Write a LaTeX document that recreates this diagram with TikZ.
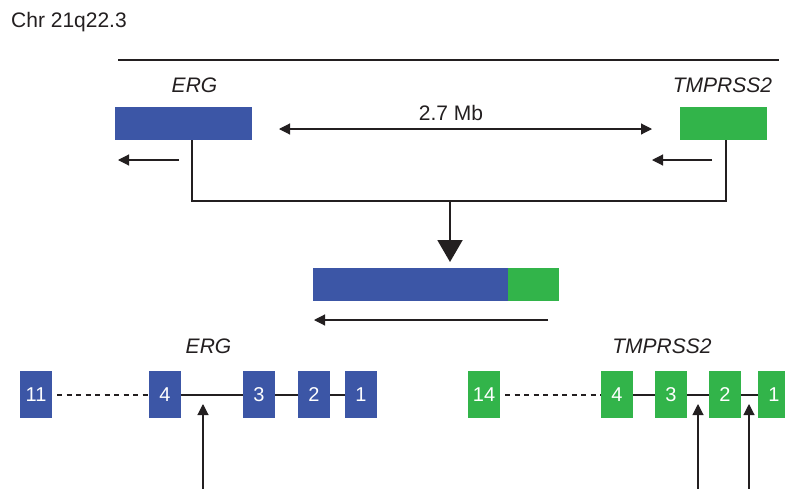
\documentclass[tikz,border=0pt]{standalone}
\usepackage{fontspec}
\setmainfont{Liberation Sans}
\usetikzlibrary{arrows.meta}
\definecolor{ergblue}{RGB}{60,86,166}
\definecolor{tmgreen}{RGB}{50,180,74}
\definecolor{ink}{RGB}{35,31,32}
\begin{document}
\begin{tikzpicture}[x=1pt,y=-1pt,
  lbl/.style={font=\fontsize{21}{25}\selectfont, text=ink, inner sep=0},
  glbl/.style={lbl, font=\fontsize{21}{25}\selectfont\itshape},
  gbox/.style={rectangle, inner sep=0, minimum height=33pt},
  exonbox/.style={rectangle, inner sep=0, minimum width=32pt, minimum height=47pt, text=white, font=\fontsize{20}{24}\selectfont},
  ergex/.style={exonbox, fill=ergblue},
  tmex/.style={exonbox, fill=tmgreen},
  conn/.style={draw=ink, line width=2pt},
  thinarrow/.style={draw=ink, line width=1.1pt, -{Triangle[length=11pt,width=11pt]}},
  dblarrow/.style={draw=ink, line width=1.1pt, {Triangle[length=11pt,width=11pt]}-{Triangle[length=11pt,width=11pt]}},
  dashconn/.style={draw=ink, line width=2pt, dash pattern=on 5pt off 4.5pt}
]
\clip (0,0) rectangle (785,488);
\fill[white] (0,0) rectangle (785,488);

% title
\node[lbl, anchor=base west] (chr) at (11,27.5) {Chr 21q22.3};

% chromosome line
\coordinate (cl) at (118,60);
\coordinate (cr) at (779,60);
\draw[conn] (cl) -- (cr);

% genes on chromosome
\node[glbl, anchor=base] (erglbl) at (194.5,92) {ERG};
\node[glbl, anchor=base] (tmlbl) at (722.5,92) {TMPRSS2};
\node[gbox, fill=ergblue, minimum width=137pt] (ergbox) at (183.5,123.5) {};
\node[gbox, fill=tmgreen, minimum width=87pt] (tmbox) at (723.5,123.5) {};

% distance
\coordinate (dl) at (279,129);
\coordinate (dr) at (652,129);
\draw[dblarrow] (dl) -- (dr);
\node[lbl, anchor=base] (dist) at (451,120.7) {2.7 Mb};

% orientation arrows
\coordinate (ea1) at (179,160);
\coordinate (ea2) at (118,160);
\draw[thinarrow] (ea1) -- (ea2);
\coordinate (ta1) at (712,160);
\coordinate (ta2) at (652,160);
\draw[thinarrow] (ta1) -- (ta2);

% joining lines
\coordinate (join) at (450,201);
\draw[conn] ([xshift=8.5pt]ergbox.south) |- (join);
\draw[conn] ([xshift=2.5pt]tmbox.south) |- (join);

% fusion
\node[gbox, fill=ergblue, minimum width=195pt] (fuse) at (410.5,284.5) {};
\node[gbox, fill=tmgreen, minimum width=51pt] (fuset) at (533.5,284.5) {};
\coordinate (tip) at (450,262);
\draw[conn, -{Triangle[length=22pt,width=25pt]}] (join) -- (tip);
\coordinate (fa1) at (548,320);
\coordinate (fa2) at (314,320);
\draw[thinarrow] (fa1) -- (fa2);

% ERG exon structure
\node[glbl, anchor=base] (erglbl2) at (208.5,353) {ERG};
\node[ergex] (e11) at (36,394.5) {11};
\node[ergex] (e4) at (165,394.5) {4};
\node[ergex] (e3) at (259,394.5) {3};
\node[ergex] (e2) at (314,394.5) {2};
\node[ergex] (e1) at (361,394.5) {1};
\draw[dashconn] ([xshift=5pt]e11.east) -- (e4.west);
\draw[conn] (e4) -- (e3);
\draw[conn] (e3) -- (e2);
\draw[conn] (e2) -- (e1);

% TMPRSS2 exon structure
\node[glbl, anchor=base] (tmlbl2) at (662,353) {TMPRSS2};
\node[tmex] (t14) at (484,394.5) {14};
\node[tmex] (t4) at (617,394.5) {4};
\node[tmex] (t3) at (671,394.5) {3};
\node[tmex] (t2) at (725,394.5) {2};
\node[tmex] (t1) at (774,394.5) {1};
\draw[dashconn] ([xshift=5pt]t14.east) -- (t4.west);
\draw[conn] (t4) -- (t3);
\draw[conn] (t3) -- (t2);
\draw[conn] (t2) -- (t1);

% breakpoint arrows
\coordinate (b1s) at (203,490);
\coordinate (b1e) at (203,404);
\draw[thinarrow] (b1s) -- (b1e);
\coordinate (b2s) at (698,490);
\coordinate (b2e) at (698,404);
\draw[thinarrow] (b2s) -- (b2e);
\coordinate (b3s) at (749,490);
\coordinate (b3e) at (749,404);
\draw[thinarrow] (b3s) -- (b3e);
\end{tikzpicture}
\end{document}
